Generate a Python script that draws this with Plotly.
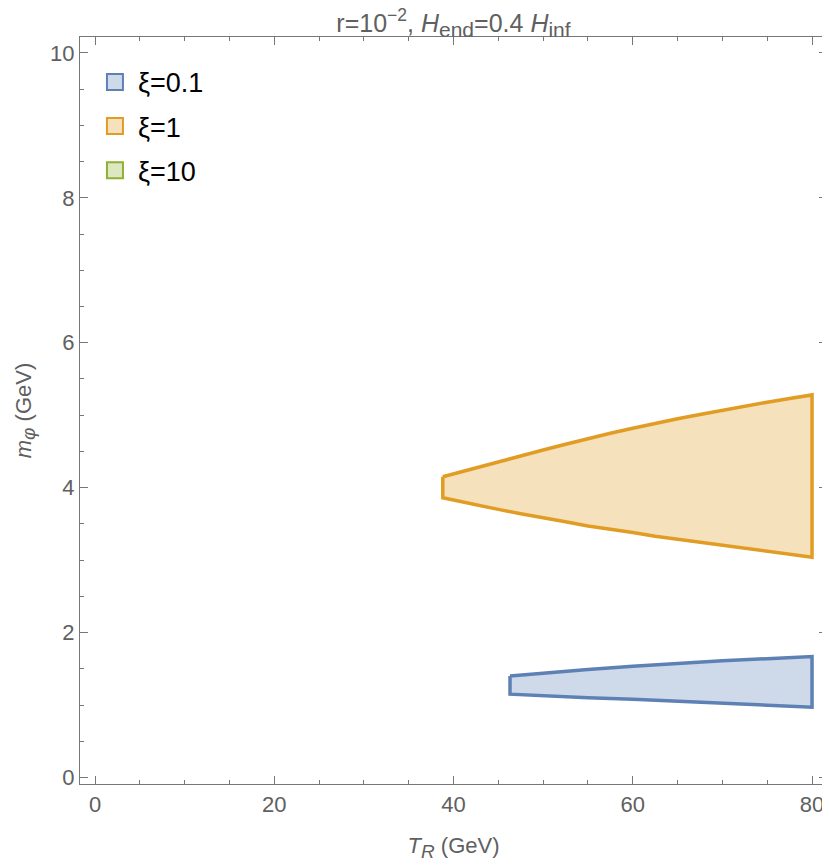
import plotly.graph_objects as go

# xi = 0.1 region (blue)
blue_T = [46.3, 50, 55, 60, 65, 70, 75, 80]
blue_upper = [1.40, 1.44, 1.49, 1.535, 1.575, 1.61, 1.64, 1.67]
blue_lower = [1.15, 1.13, 1.10, 1.08, 1.05, 1.02, 1.00, 0.97]

# xi = 1 region (orange)
orange_T = [38.8, 40, 42.5, 45, 47.5, 50, 52.5, 55, 57.5, 60, 62.5, 65, 67.5, 70, 72.5, 75, 77.5, 80]
orange_upper = [4.15, 4.19, 4.28, 4.36, 4.44, 4.52, 4.60, 4.68, 4.75, 4.82, 4.89, 4.95, 5.01, 5.07, 5.12, 5.18, 5.23, 5.28]
orange_lower = [3.86, 3.83, 3.77, 3.70, 3.64, 3.58, 3.53, 3.47, 3.42, 3.38, 3.33, 3.29, 3.25, 3.21, 3.17, 3.12, 3.08, 3.04]

labels = ["ξ=0.1", "ξ=1", "ξ=10"]
line_colors = ["#5E81B5", "#E19C24", "#8FB032"]
fill_colors = ["rgba(94,129,181,0.3)", "rgba(225,156,36,0.3)", "rgba(143,176,50,0.3)"]
legend_fills = ["#CFDAE9", "#F6E1BD", "#DDE7C2"]

x_ticks = [0, 20, 40, 60, 80]
y_ticks = [0, 2, 4, 6, 8, 10]

fig = go.Figure()

regions = [(blue_T, blue_upper, blue_lower), (orange_T, orange_upper, orange_lower)]
for i, (T, up, lo) in enumerate(regions):
    xs = list(T) + list(reversed(T)) + [T[0]]
    ys = list(up) + list(reversed(lo)) + [up[0]]
    fig.add_trace(go.Scatter(
        x=xs, y=ys, mode="lines", fill="toself",
        fillcolor=fill_colors[i],
        line=dict(color=line_colors[i], width=3.5),
        showlegend=False, hoverinfo="skip"))

for i, lab in enumerate(labels):
    fig.add_trace(go.Scatter(
        x=[None], y=[None], mode="markers", name=lab,
        legendgroup=f"g{i}",
        marker=dict(symbol="square", size=18, color=legend_fills[i],
                    line=dict(color=line_colors[i], width=2))))

axis_col = "#777777"
text_col = "#606060"
font_fam = "Liberation Sans, Arial, sans-serif"

def sub(t, size):
    return f'<sub><span style="font-size:{size}px">{t}</span></sub>'

title_text = ("r=10<sup>−2</sup>, <i>H</i>" + sub("end", 21)
              + "=0.4 <i>H</i>" + sub("inf", 21))
x_title = "<i>T</i>" + sub("<i>R</i>", 19) + " (GeV)"
y_title = "<i>m</i>" + sub("<i>φ</i>", 19) + " (GeV)"

fig.update_layout(
    width=830, height=867,
    margin=dict(l=72, r=11, t=29, b=91),
    plot_bgcolor="white", paper_bgcolor="white",
    font=dict(family=font_fam, size=22, color=text_col),
    title=dict(text=title_text,
               x=0.5, xref="paper", xanchor="center",
               y=1 - 15 / 867, yref="container", yanchor="middle",
               font=dict(size=25, color=text_col, family=font_fam)),
    showlegend=True,
    legend=dict(x=0.016, y=0.972, xanchor="left", yanchor="top",
                bgcolor="rgba(0,0,0,0)", tracegroupgap=6, itemwidth=36,
                font=dict(size=27, color="black", family=font_fam)),
    xaxis=dict(range=[-1.68, 81.67], tickvals=x_ticks, ticktext=[str(v) for v in x_ticks],
               showgrid=False, zeroline=False,
               showline=True, linecolor=axis_col, linewidth=1.3, mirror="allticks",
               ticks="inside", ticklen=8, tickcolor=axis_col, tickwidth=1,
               minor=dict(dtick=5, tick0=0, ticks="inside", ticklen=4, tickcolor=axis_col, showgrid=False),
               tickfont=dict(size=22, color=text_col),
               title=dict(text=x_title, standoff=22,
                          font=dict(size=22, color=text_col))),
    yaxis=dict(range=[-0.09, 10.22], tickvals=y_ticks, ticktext=[str(v) for v in y_ticks],
               showgrid=False, zeroline=False,
               showline=True, linecolor=axis_col, linewidth=1.3, mirror="allticks",
               ticks="inside", ticklen=8, tickcolor=axis_col, tickwidth=1,
               minor=dict(dtick=0.5, tick0=0, ticks="inside", ticklen=4, tickcolor=axis_col, showgrid=False),
               tickfont=dict(size=22, color=text_col),
               title=dict(text=y_title, standoff=12,
                          font=dict(size=22, color=text_col))),
)

fig.write_html("out.html")
